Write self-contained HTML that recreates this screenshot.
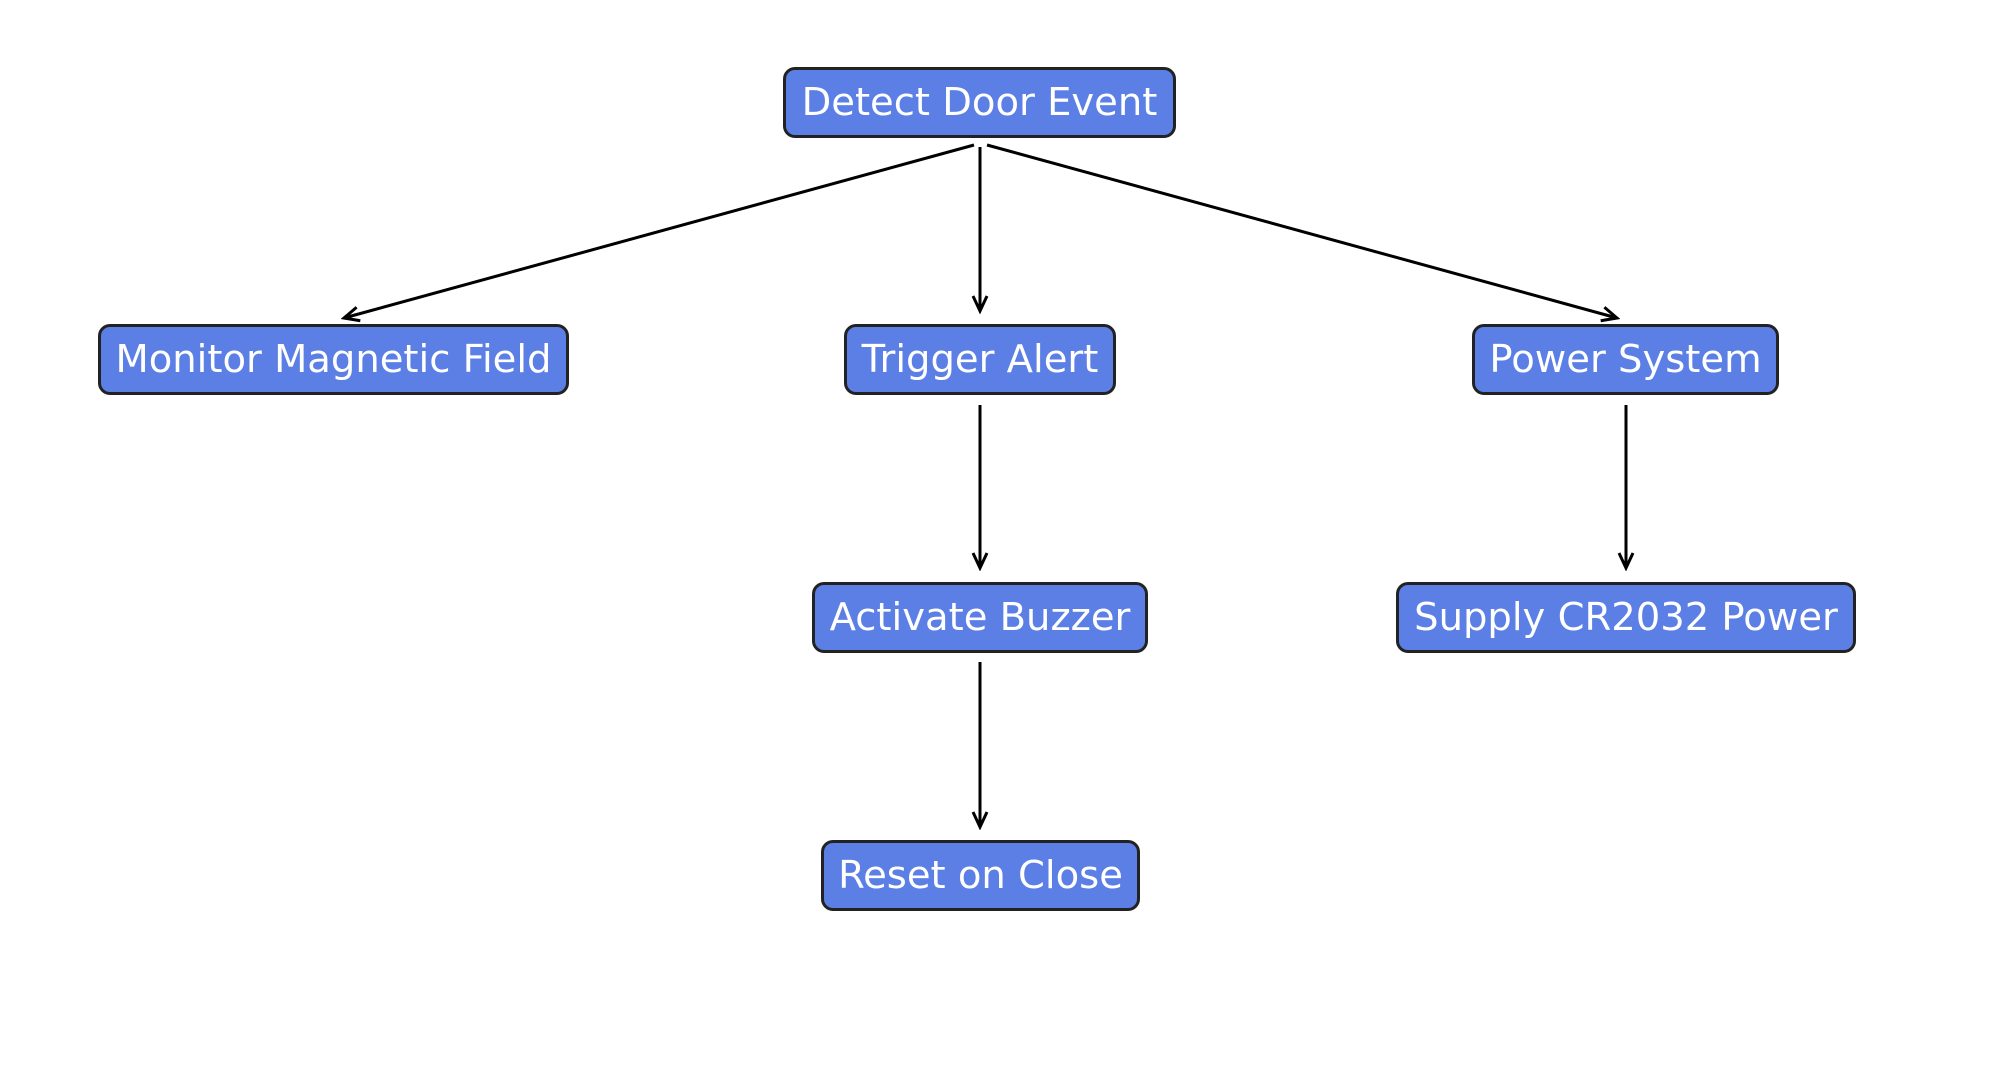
<!DOCTYPE html>
<html><head><meta charset="utf-8"><style>
html,body{margin:0;padding:0;background:#fff;}
body{width:1999px;height:1073px;position:relative;overflow:hidden;font-family:"DejaVu Sans","Liberation Sans",sans-serif;}
.n{position:absolute;box-sizing:border-box;background:#5b7fe5;border:3px solid #222;border-radius:12px;color:#fff;font-size:38.5px;display:flex;align-items:center;justify-content:center;white-space:nowrap;height:71px;}
svg{position:absolute;left:0;top:0;}
</style></head><body>
<svg width="1999" height="1073" viewBox="0 0 1999 1073">
<defs><marker id="a" markerWidth="20" markerHeight="20" refX="17" refY="10" orient="auto" markerUnits="userSpaceOnUse">
<path d="M2,3 L17,10 L2,17" fill="none" stroke="#000" stroke-width="3"/></marker></defs>
<g stroke="#000" stroke-width="3" fill="none" marker-end="url(#a)">
<line x1="974" y1="145" x2="344" y2="318"/>
<line x1="980" y1="147" x2="980" y2="311"/>
<line x1="987" y1="145" x2="1617" y2="318"/>
<line x1="980" y1="405" x2="980" y2="568"/>
<line x1="1626" y1="405" x2="1626" y2="568"/>
<line x1="980" y1="662" x2="980" y2="827"/>
</g></svg>
<div class="n" style="left:783px;top:67px;width:393px;">Detect Door Event</div>
<div class="n" style="left:98px;top:324px;width:471px;">Monitor Magnetic Field</div>
<div class="n" style="left:844px;top:324px;width:272px;">Trigger Alert</div>
<div class="n" style="left:1472px;top:324px;width:307px;">Power System</div>
<div class="n" style="left:812px;top:582px;width:336px;">Activate Buzzer</div>
<div class="n" style="left:1396px;top:582px;width:460px;">Supply CR2032 Power</div>
<div class="n" style="left:821px;top:840px;width:319px;">Reset on Close</div>
</body></html>
